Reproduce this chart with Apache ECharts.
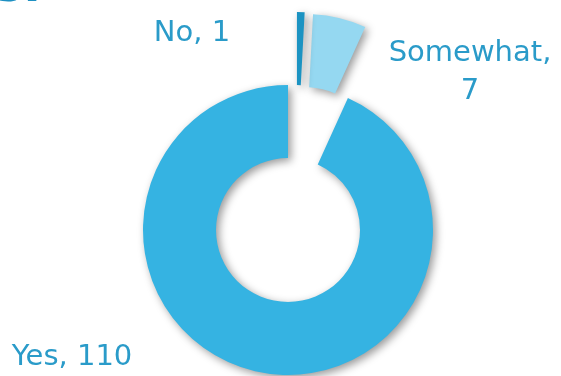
<!DOCTYPE html>
<html>
<head>
<meta charset="utf-8">
<script src="https://cdn.jsdelivr.net/npm/echarts@6/dist/echarts.min.js"></script>
<style>
  html, body { margin: 0; padding: 0; background: #ffffff; }
  #chart { width: 561px; height: 376px; }
</style>
</head>
<body>
<div id="chart"></div>
<script>
// Survey answers, drawn clockwise from 12 o'clock
const categories = ['No', 'Somewhat', 'Yes'];
const counts = [1, 7, 110];
const sliceColors = ['#1b93c2', '#95d8f1', '#35b3e2'];
const pulledOut = [true, true, false];

// Where each data label sits
const labelSpots = {
  'No': { x: 192, y: 33 },
  'Somewhat': { x: 470, y: 72 },
  'Yes': { x: 72, y: 357 }
};

const ringCenter = [288, 230];
const ringRadius = [72, 145];
const hidden = { color: 'rgba(0,0,0,0)', shadowBlur: 0, shadowColor: 'rgba(0,0,0,0)' };
const dropShadow = {
  shadowBlur: 8,
  shadowOffsetX: 3,
  shadowOffsetY: 3,
  shadowColor: 'rgba(0,0,0,0.4)'
};

// Slices; showOnly picks which categories this ring paints
function sliceData(showOnly) {
  return categories.map((name, i) => ({
    name: name,
    value: counts[i],
    selected: pulledOut[i],
    itemStyle: showOnly.includes(name) ? { color: sliceColors[i] } : hidden
  }));
}

function ring(center, showOnly) {
  return {
    type: 'pie',
    center: center,
    radius: ringRadius,
    startAngle: 90,
    clockwise: true,
    selectedMode: 'multiple',
    selectedOffset: 73,
    silent: true,
    emphasis: { disabled: true },
    itemStyle: dropShadow,
    label: { show: false },
    labelLine: { show: false },
    data: sliceData(showOnly)
  };
}

const chart = echarts.init(document.getElementById('chart'), null, { renderer: 'canvas' });

chart.setOption({
  backgroundColor: '#ffffff',
  animation: false,
  graphic: [{
    type: 'text',
    left: -6,
    top: -35,
    style: {
      text: 's:',
      font: 'bold 48px "DejaVu Sans"',
      fill: '#1e90c2'
    }
  }],
  series: [
    ring(ringCenter, ['Somewhat', 'Yes']),
    // the thin "No" sliver is pulled a little further right
    ring([ringCenter[0] + 7, ringCenter[1]], ['No']),
    // label carrier: same ring, no paint, labels placed freely
    {
      type: 'pie',
      center: ringCenter,
      radius: ringRadius,
      startAngle: 90,
      clockwise: true,
      silent: true,
      emphasis: { disabled: true },
      itemStyle: hidden,
      label: {
        show: true,
        position: 'outside',
        formatter: p => p.name === 'Somewhat' ? p.name + ',\n' + p.value : p.name + ', ' + p.value,
        fontFamily: '"DejaVu Sans"',
        fontSize: 29,
        lineHeight: 38,
        align: 'center',
        color: '#2a9bc9'
      },
      labelLine: { show: false },
      labelLayout: function (params) {
        const spot = labelSpots[categories[params.dataIndex]];
        return { x: spot.x, y: spot.y, align: 'center', verticalAlign: 'middle' };
      },
      data: categories.map((name, i) => ({ name: name, value: counts[i] }))
    }
  ]
});
</script>
</body>
</html>
